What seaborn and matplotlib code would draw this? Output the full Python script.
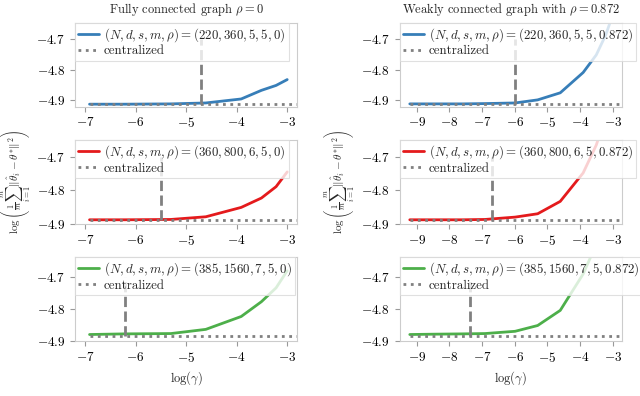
import numpy as np
import matplotlib
matplotlib.use("Agg")
import matplotlib.pyplot as plt
import seaborn as sns

# x grids: log(gamma)
x_full = [-6.91, -6.21, -5.30, -4.61, -3.91, -3.51, -3.22, -3.00]
x_weak = [-9.21, -8.52, -7.60, -6.91, -5.99, -5.30, -4.61, -3.91, -3.51, -3.22, -3.00]

# fully connected graph, rho = 0
blue_full = [-4.912, -4.912, -4.911, -4.908, -4.895, -4.867, -4.851, -4.832]
red_full = [-4.888, -4.888, -4.887, -4.879, -4.851, -4.823, -4.789, -4.745]
green_full = [-4.880, -4.878, -4.877, -4.864, -4.824, -4.778, -4.735, -4.682]

# weakly connected graph, rho = 0.872
blue_weak = [-4.911, -4.911, -4.911, -4.910, -4.908, -4.898, -4.875, -4.809, -4.752, -4.687, -4.620]
red_weak = [-4.888, -4.888, -4.888, -4.887, -4.880, -4.870, -4.833, -4.748, -4.665, -4.580, -4.510]
green_weak = [-4.880, -4.879, -4.878, -4.877, -4.870, -4.852, -4.805, -4.692, -4.600, -4.530, -4.460]

centralized = [-4.912, -4.890, -4.885]
vline_full = [-4.70, -5.49, -6.20]
vline_weak = [-6.00, -6.71, -7.37]

labels_full = [r"$(N,d,s,m,\rho)=(220,360,5,5,0)$",
               r"$(N,d,s,m,\rho)=(360,800,6,5,0)$",
               r"$(N,d,s,m,\rho)=(385,1560,7,5,0)$"]
labels_weak = [r"$(N,d,s,m,\rho)=(220,360,5,5,0.872)$",
               r"$(N,d,s,m,\rho)=(360,800,6,5,0.872)$",
               r"$(N,d,s,m,\rho)=(385,1560,7,5,0.872)$"]

colors = ["#377eb8", "#e41a1c", "#4daf4a"]
ylims = [(-4.92, -4.648), (-4.90, -4.65), (-4.90, -4.64)]

sns.set_style("ticks", {"axes.edgecolor": ".8", "xtick.color": ".6", "ytick.color": ".6"})
plt.rcParams["font.family"] = "serif"
plt.rcParams["font.serif"] = ["cmr10", "DejaVu Serif"]
plt.rcParams["mathtext.fontset"] = "cm"
plt.rcParams["axes.formatter.use_mathtext"] = True
plt.rcParams["font.size"] = 9

fig, axes = plt.subplots(3, 2, figsize=(6.4, 3.96), dpi=100)
fig.subplots_adjust(left=0.117, right=0.972, top=0.942, bottom=0.139, hspace=0.4, wspace=0.46)

ylabel = r"$\log\left(\frac{1}{m}\sum_{i=1}^{m}\|\hat{\theta}_i-\theta^{*}\|^2\right)$"

panels = [
    (0, x_full, [blue_full, red_full, green_full], labels_full, vline_full, (-7.2, -2.8)),
    (1, x_weak, [blue_weak, red_weak, green_weak], labels_weak, vline_weak, (-9.52, -2.72)),
]

for col, xs, series, labels, vlines, xlim in panels:
    for row in range(3):
        ax = axes[row, col]
        sns.lineplot(x=xs, y=series[row], color=colors[row], lw=2, ax=ax, label=labels[row])
        ax.vlines(vlines[row], centralized[row], -4.70, colors="grey", linestyles="--", lw=2)
        ax.hlines(centralized[row], xs[0], xlim[1], colors="grey", linestyles=":", lw=2,
                  label="centralized")
        ax.set_xlim(*xlim)
        ax.set_ylim(*ylims[row])
        ax.set_yticks([-4.9, -4.8, -4.7])
        if col == 0:
            ax.set_xticks([-7, -6, -5, -4, -3])
        else:
            ax.set_xticks([-9, -8, -7, -6, -5, -4, -3])
        ax.tick_params(labelcolor="black", labelsize=9.5, length=3.5, width=0.8)
        for s in ax.spines.values():
            s.set_visible(True)
            s.set_linewidth(0.8)
        leg = ax.legend(loc="upper left", borderaxespad=0, handlelength=1.6,
                        handletextpad=0.4, labelspacing=0.1, borderpad=0.25,
                        framealpha=0.8, fancybox=False, fontsize=9.3)
        leg.get_frame().set_edgecolor(".85")
        leg.get_frame().set_linewidth(0.8)
        if row == 1:
            ax.set_ylabel(ylabel, fontsize=8, labelpad=2)
        if row == 2:
            ax.set_xlabel(r"$\log(\gamma)$", fontsize=9, labelpad=3)

axes[0, 0].set_title(r"Fully connected graph $\rho=0$", fontsize=9, pad=7)
axes[0, 1].set_title(r"Weakly connected graph with $\rho=0.872$", fontsize=9, pad=7)

fig.savefig("out.png", dpi=100)
